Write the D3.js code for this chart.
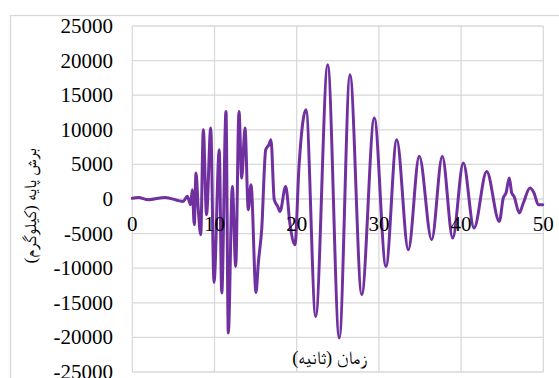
<!DOCTYPE html>
<html><head><meta charset="utf-8">
<script src="https://cdn.jsdelivr.net/npm/d3@7"></script>
<style>body{margin:0;background:#fff}svg{display:block}</style>
</head><body>
<svg id="c" width="559" height="378"></svg>
<script>
const timeSec = [0,0.73,1.95,3.98,6.17,6.69,7.1,7.3,7.54,7.75,8.03,8.32,8.64,9.03,9.54,9.94,10.58,10.88,11.4,11.68,12.17,12.58,12.98,13.31,13.71,14.11,14.44,15.05,15.33,15.74,16.23,16.63,16.87,17.27,17.69,17.97,18.66,19.19,19.79,20.28,21.13,22.31,23.77,25.18,26.48,27.91,29.44,30.86,32.17,33.58,34.91,36.42,37.71,38.98,40.27,41.57,43.11,44.65,45.13,45.46,45.86,46.16,46.44,47.08,47.57,48.38,48.87,49.39,49.93];
const baseShear = [100,230,-100,230,-350,380,-820,1340,-3700,3750,-1550,-5150,10000,-2270,10260,-12050,7120,-13580,12660,-19360,1820,-9740,12660,3030,10260,-1550,2070,-13500,-9250,-4440,7120,7850,8570,-100,-1070,-1790,1820,-3710,-6600,4700,12900,-16970,19400,-20090,17960,-13830,11700,-9740,8570,-7330,6160,-5880,6160,-5640,5200,-4190,3990,-3240,140,870,3030,870,380,-2020,-580,1590,870,-820,-820];
const xTicks = [0,10,20,30,40,50];
const yTicks = [-25000,-20000,-15000,-10000,-5000,0,5000,10000,15000,20000,25000];
const xTitle = "زمان (ثانیه)";
const yTitle = "برش پایه (کیلوگرم)";

const svg = d3.select("#c");
const x = d3.scaleLinear().domain([0,50]).range([132.3,543.3]);
const y = d3.scaleLinear().domain([-25000,25000]).range([372,26]);
const grid = "#d9d9d9";
const numFont = '"Liberation Serif"';
const titleFont = '"Liberation Serif", "FreeSerif"';

svg.append("rect").attr("x",10.5).attr("y",15.5).attr("width",600).attr("height",400)
  .attr("fill","none").attr("stroke",grid).attr("stroke-width",1.3);

svg.append("g").selectAll("line").data(yTicks).join("line")
  .attr("x1",x(0)).attr("x2",x(50)).attr("y1",d=>y(d)).attr("y2",d=>y(d))
  .attr("stroke",grid).attr("stroke-width",1.3);
svg.append("g").selectAll("line").data(xTicks).join("line")
  .attr("x1",d=>x(d)).attr("x2",d=>x(d)).attr("y1",y(25000)).attr("y2",y(-25000))
  .attr("stroke",grid).attr("stroke-width",1.3);

svg.append("g").selectAll("text").data(yTicks).join("text")
  .attr("x",113).attr("y",d=>y(d)+7).attr("text-anchor","end")
  .style("font-family",numFont).style("font-size","21px").style("fill","#000")
  .text(d=>d);

const pts = timeSec.map((t,i)=>[t,baseShear[i]]);
svg.append("path").datum(pts)
  .attr("d", d3.line().x(d=>x(d[0])).y(d=>y(d[1])).curve(d3.curveMonotoneX))
  .attr("fill","none").attr("stroke","#7030A0").attr("stroke-width",3)
  .attr("stroke-linejoin","round").attr("stroke-linecap","round");

svg.append("g").selectAll("text").data(xTicks).join("text")
  .attr("x",d=>x(d)).attr("y",y(0)+32).attr("text-anchor","middle")
  .style("font-family",numFont).style("font-size","21px").style("fill","#000")
  .text(d=>d);

svg.append("text").attr("x",329).attr("y",364).attr("text-anchor","middle")
  .style("font-family",titleFont).style("font-size","18.5px").style("fill","#000")
  .attr("direction","rtl").text(xTitle);
svg.append("text").attr("transform","translate(36,206) rotate(-90)").attr("text-anchor","middle")
  .style("font-family",titleFont).style("font-size","17.5px").style("fill","#000")
  .attr("direction","rtl").text(yTitle);
</script>
</body></html>
